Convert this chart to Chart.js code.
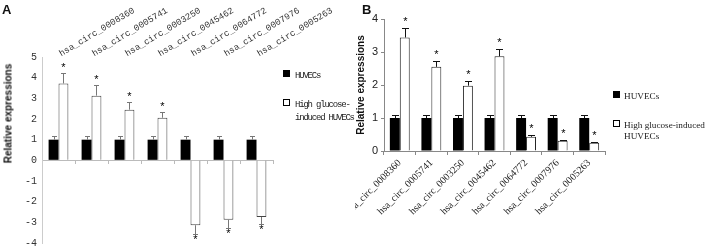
<!DOCTYPE html>
<html>
<head>
<meta charset="utf-8">
<script src="https://cdn.jsdelivr.net/npm/chart.js@4.4.1/dist/chart.umd.min.js"></script>
<style>
  html, body { margin: 0; padding: 0; background: #fff; }
  body { width: 709px; height: 246px; overflow: hidden; position: relative; }
  .abs { position: absolute; white-space: nowrap; }
  .panel { font: bold 13px "Liberation Sans", Arial, sans-serif; color: #111; }
  .ytitle { font: bold 10px "Liberation Sans", Arial, sans-serif; color: #111; width: 120px; text-align: center; transform: rotate(-90deg); }
  .legA { font: 9px "Liberation Mono", monospace; letter-spacing: -1.2px; color: #222; line-height: 13px; }
  .legB { font: 9.2px "Liberation Serif", "Times New Roman", serif; color: #222; line-height: 11px; }
  .sq { display: inline-block; width: 5px; height: 5px; border: 1px solid #000; margin-right: 4px; vertical-align: 1px; }
  .legA .sq { margin-right: 5px; }
  .sq.fill { background: #000; }
</style>
</head>
<body>
<canvas id="chartA" class="abs" style="left:0;top:0" width="340" height="260"></canvas>
<canvas id="chartB" class="abs" style="left:355px;top:0" width="260" height="246"></canvas>

<div class="abs panel" style="left:2px;top:2px">A</div>
<div class="abs panel" style="left:362px;top:2px">B</div>
<div class="abs ytitle" style="left:-52px;top:108px">Relative expressions</div>

<div class="abs legA" style="left:283px;top:70px"><span class="sq fill"></span>HUVECs</div>
<div class="abs legA" style="left:283px;top:99px"><span class="sq"></span>High glucose-<br><span style="padding-left:12px">induced HUVECs</span></div>

<div class="abs legB" style="left:613px;top:91px"><span class="sq fill"></span>HUVECs</div>
<div class="abs legB" style="left:613px;top:120px"><span class="sq"></span>High glucose-induced<br><span style="padding-left:11px">HUVECs</span></div>

<script>
// ---------------- Data ----------------
const categories = ['hsa_circ_0008360', 'hsa_circ_0005741', 'hsa_circ_0003250', 'hsa_circ_0045462',
                    'hsa_circ_0064772', 'hsa_circ_0007976', 'hsa_circ_0005263'];
const seriesNames = ['HUVECs', 'High glucose-induced HUVECs'];

// panel A
const huvecA = [1, 1, 1, 1, 1, 1, 1];
const huvecErrA = [0.2, 0.2, 0.2, 0.2, 0.2, 0.2, 0.2];
const highA = [3.72, 3.13, 2.45, 2.06, -3.14, -2.88, -2.74];
const highErrA = [0.53, 0.5, 0.35, 0.3, 0.44, 0.41, 0.36];
const yMinA = -4, yMaxA = 5;

// panel B
const huvecB = [1, 1, 1, 1, 1, 1, 1];
const huvecErrB = [0.08, 0.08, 0.08, 0.08, 0.08, 0.08, 0.08];
const highB = [3.44, 2.55, 1.98, 2.87, 0.43, 0.31, 0.25];
const highErrB = [0.28, 0.18, 0.14, 0.21, 0.05, 0.03, 0.02];
const yMinB = 0, yMaxB = 4;

// --------------- Error bars + asterisks -----------------
const errorBars = {
  id: 'errorBars',
  afterDatasetsDraw(chart, args, opts) {
    const ctx = chart.ctx;
    const yScale = chart.scales.y;
    chart.data.datasets.forEach((ds, di) => {
      const meta = chart.getDatasetMeta(di);
      meta.data.forEach((bar, i) => {
        const v = ds.data[i];
        const e = ds.errors[i];
        const end = v < 0 ? v - e : v + e;
        const x = Math.round(bar.x) + 0.5;
        const y0 = yScale.getPixelForValue(v);
        const y1 = Math.round(yScale.getPixelForValue(end)) + 0.5;
        ctx.save();
        ctx.strokeStyle = opts.color;
        ctx.lineWidth = 1;
        ctx.beginPath();
        ctx.moveTo(x, y0);
        ctx.lineTo(x, y1);
        ctx.moveTo(x - opts.cap, y1);
        ctx.lineTo(x + opts.cap, y1);
        ctx.stroke();
        if (ds.stars) {
          ctx.fillStyle = '#000';
          ctx.font = opts.starFont;
          ctx.textAlign = 'center';
          if (v < 0) {
            ctx.textBaseline = 'top';
            ctx.fillText('*', x, y1 + opts.starGap);
          } else {
            ctx.textBaseline = 'bottom';
            ctx.fillText('*', x, y1 - opts.starGap);
          }
        }
        ctx.restore();
      });
    });
  }
};

// --------------- Panel A -----------------
new Chart(document.getElementById('chartA'), {
  type: 'bar',
  data: {
    labels: categories,
    datasets: [
      { label: seriesNames[0], data: huvecA, errors: huvecErrA, backgroundColor: '#000', borderWidth: 0 },
      { label: seriesNames[1], data: highA, errors: highErrA, stars: true,
        backgroundColor: '#fff', borderColor: '#444', borderWidth: 1 }
    ]
  },
  options: {
    responsive: false,
    animation: false,
    layout: { padding: { left: 0, right: 67, top: 0, bottom: 17 } },
    datasets: { bar: { categoryPercentage: 0.6, barPercentage: 1 } },
    plugins: {
      legend: { display: false },
      tooltip: { enabled: false },
      errorBars: { color: '#777', cap: 2.5, starFont: '11px "Liberation Sans"', starGap: 0 }
    },
    scales: {
      x: {
        position: { y: 0 },
        grid: { drawOnChartArea: false, tickLength: 3, color: '#bbb' },
        border: { color: '#bbb' },
        ticks: { display: false }
      },
      x2: {
        type: 'category',
        position: 'top',
        labels: categories,
        grid: { display: false, drawTicks: false },
        border: { display: false },
        ticks: {
          minRotation: 31, maxRotation: 31, labelOffset: 7, padding: -2,
          font: { family: 'Liberation Mono', size: 9 }, color: '#333'
        },
        afterFit(s) { s.height = 57; s.paddingLeft = 0; s.paddingRight = 0; }
      },
      y: {
        min: yMinA, max: yMaxA,
        ticks: { stepSize: 1, padding: 5, font: { family: 'Liberation Mono', size: 10 }, color: '#333' },
        grid: { drawOnChartArea: false, drawTicks: false },
        border: { color: '#ccc' },
        afterFit(s) { s.width = 42; s.paddingTop = 0; s.paddingBottom = 0; }
      }
    }
  },
  plugins: [errorBars]
});

// --------------- Panel B -----------------
new Chart(document.getElementById('chartB'), {
  type: 'bar',
  data: {
    labels: categories,
    datasets: [
      { label: seriesNames[0], data: huvecB, errors: huvecErrB, backgroundColor: '#000', borderWidth: 0 },
      { label: seriesNames[1], data: highB, errors: highErrB, stars: true,
        backgroundColor: '#fff', borderColor: '#222', borderWidth: 1 }
    ]
  },
  options: {
    responsive: false,
    animation: false,
    layout: { padding: { left: 0, right: 10, top: 19, bottom: 0 } },
    datasets: { bar: { categoryPercentage: 0.63, barPercentage: 1 } },
    plugins: {
      legend: { display: false },
      tooltip: { enabled: false },
      errorBars: { color: '#111', cap: 3.5, starFont: '11px "Liberation Sans"', starGap: 1 }
    },
    scales: {
      x: {
        grid: { drawOnChartArea: false, tickLength: 4, color: '#888' },
        border: { color: '#888' },
        ticks: {
          minRotation: 45, maxRotation: 45, padding: 2,
          font: { family: 'Liberation Serif', size: 10 }, color: '#222'
        },
        afterFit(s) { s.height = 95; s.paddingLeft = 0; s.paddingRight = 0; }
      },
      y: {
        min: yMinB, max: yMaxB,
        ticks: { stepSize: 1, padding: 3, font: { family: 'Liberation Sans', size: 11 }, color: '#222' },
        grid: { drawOnChartArea: false, tickLength: 3, color: '#888' },
        border: { color: '#888' },
        title: {
          display: true, text: 'Relative expressions', padding: 0, color: '#111',
          font: { family: 'Liberation Sans', size: 10, weight: 'bold' }
        },
        afterFit(s) { s.width = 29; s.paddingTop = 0; s.paddingBottom = 0; }
      }
    }
  },
  plugins: [errorBars]
});
</script>
</body>
</html>
